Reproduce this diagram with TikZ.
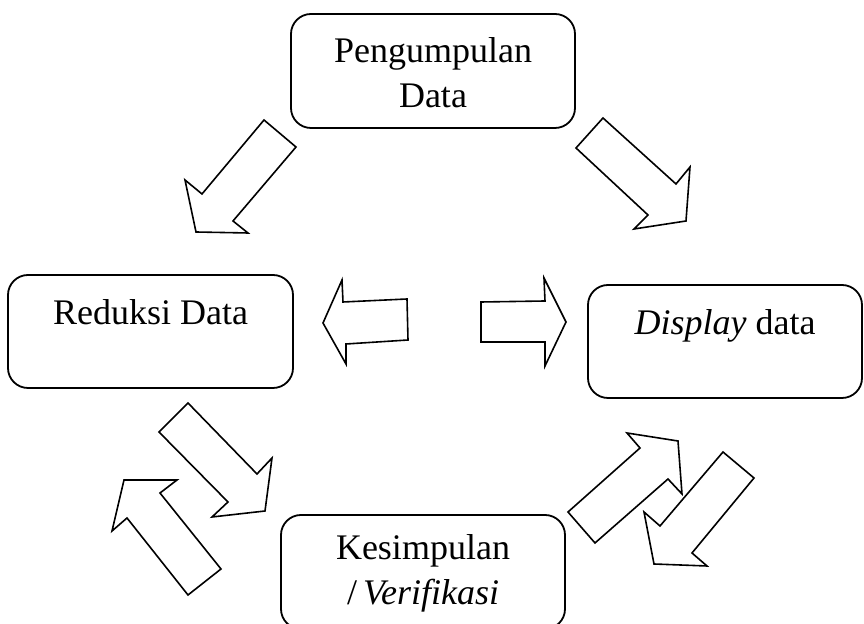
\documentclass[tikz,border=0pt]{standalone}
\usepackage{fontspec}
\setmainfont{Liberation Serif}
\begin{document}
\begin{tikzpicture}[x=0.5pt,y=-0.5pt,
    stagebox/.style={draw,rounded corners=10pt,line width=0.9pt,align=center,
      inner sep=0pt,font=\fontsize{18}{22.5}\selectfont},
    blockarrow/.style={draw,fill=white,line width=0.8pt,line join=miter}]
  \useasboundingbox (0,0) rectangle (864,624);
  \draw node (pengumpulan) [stagebox,minimum width=142pt,minimum height=57pt] at (433,71) {\rule{0pt}{14pt}Pengumpulan\\Data}
        node (reduksi) [stagebox,minimum width=142.5pt,minimum height=56.5pt] at (150.5,331.5) {\strut Reduksi Data\\\mbox{}}
        node (display) [stagebox,minimum width=137pt,minimum height=56.5pt] at (725,341.5) {\strut\textit{Display} data\\\mbox{}}
        node (kesimpulan) [stagebox,minimum width=142pt,minimum height=57pt] at (423,572) {\rule{0pt}{14pt}Kesimpulan\\/\,\textit{Verifikasi}};
  % block arrows round the cycle
  \draw[blockarrow] (264,120) -- (296,147) -- (233,221) -- (248,233) -- (196,232) -- (185,180) -- (202,194) -- cycle;
  \draw[blockarrow] (603,118) -- (676,184) -- (690,167) -- (686,221) -- (634,229) -- (648,215) -- (576,148) -- cycle;
  \draw[blockarrow] (323,323) -- (342,280) -- (343,302) -- (407,299) -- (408,340) -- (346,344) -- (346,364) -- cycle;
  \draw[blockarrow] (566,322) -- (544,278) -- (545,301) -- (481,302) -- (481,342) -- (545,342) -- (545,366) -- cycle;
  \draw[blockarrow] (188,403) -- (257,474) -- (272,458) -- (265,511) -- (212,517) -- (228,502) -- (159,432) -- cycle;
  \draw[blockarrow] (124,480) -- (177,480) -- (160,493) -- (221,569) -- (188,595) -- (127,518) -- (112,531) -- cycle;
  \draw[blockarrow] (568,512) -- (640,448) -- (627,433) -- (678,441) -- (682,494) -- (668,479) -- (595,543) -- cycle;
  \draw[blockarrow] (723,452) -- (754,478) -- (692,553) -- (707,566) -- (654,564) -- (644,512) -- (660,526) -- cycle;
\end{tikzpicture}
\end{document}
